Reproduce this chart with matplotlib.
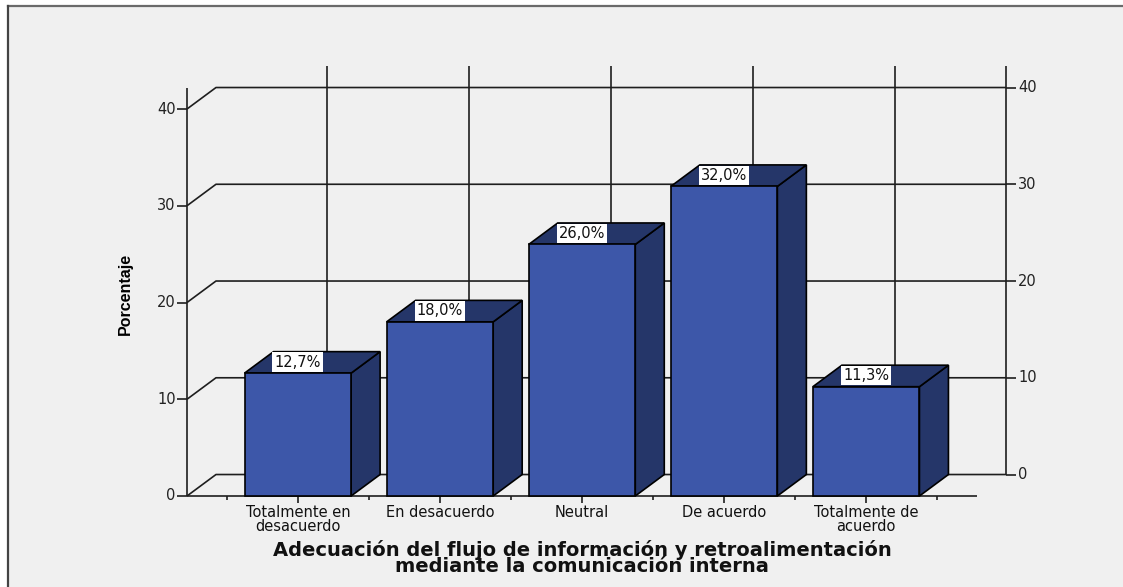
import matplotlib
matplotlib.use("Agg")
import matplotlib.pyplot as plt
from matplotlib.patches import Polygon, Rectangle
from matplotlib.lines import Line2D

# Porcentaje por categoría
categorias = ["Totalmente en\ndesacuerdo", "En desacuerdo", "Neutral",
              "De acuerdo", "Totalmente de\nacuerdo"]
porcentajes = [12.7, 18.0, 26.0, 32.0, 11.3]
etiquetas = ["12,7%", "18,0%", "26,0%", "32,0%", "11,3%"]
marcas_y = [0, 10, 20, 30, 40]

titulo = ["Adecuación del flujo de información y retroalimentación",
          "mediante la comunicación interna"]
eje_y = "Porcentaje"

FRENTE = "#3D57A9"
OSCURO = "#253669"
LINEA = "#1e1e1e"
FONDO = "#F0F0F0"

W, H = 1123, 587
fig = plt.figure(figsize=(W / 100, H / 100), dpi=100)
fig.patch.set_facecolor("white")

# fondo del marco
fig.patches.append(Rectangle((8 / W, 0), 1, 1 - 6 / H, transform=fig.transFigure,
                             facecolor=FONDO, edgecolor="none", zorder=-5))
fig.lines.append(Line2D([8 / W, 1], [1 - 6 / H, 1 - 6 / H], transform=fig.transFigure,
                        color="#6a6a6a", lw=1.6, zorder=-4))
fig.lines.append(Line2D([8 / W, 8 / W], [0, 1 - 6 / H], transform=fig.transFigure,
                        color="#444444", lw=1.6, zorder=-4))

# plano frontal del gráfico
ax = fig.add_axes([187 / W, 91 / H, 790 / W, 387 / H])
ax.set_zorder(1)
ax.set_xlim(-0.78, 4.78)
ax.set_ylim(0, 40)
ax.axis("off")

x0, x1 = -0.78, 4.78
dx, dy = 0.204, 2.22     # profundidad del efecto 3D
ytop = 42.2
ancho = 0.75

kw = dict(color=LINEA, lw=1.2, clip_on=False, solid_capstyle="butt")

# pared de fondo: líneas horizontales y diagonales laterales
for v in marcas_y:
    ax.plot([x0, x0 + dx, x1 + dx], [v, v + dy, v + dy], zorder=1, **kw)
    # marcas y etiquetas del eje izquierdo
    ax.plot([x0 - 0.07, x0], [v, v], zorder=1, **kw)
    ax.text(x0 - 0.08, v, str(v), ha="right", va="center", fontsize=10.5,
            color="#222222")
    # marcas y etiquetas del eje derecho
    ax.plot([x1 + dx, x1 + dx + 0.07], [v + dy, v + dy], zorder=1, **kw)
    ax.text(x1 + dx + 0.085, v + dy, str(v), ha="left", va="center",
            fontsize=10.5, color="#222222")

# ejes verticales
ax.plot([x0, x0], [0, ytop], zorder=1, **kw)
ax.plot([x1 + dx, x1 + dx], [dy, ytop + dy], zorder=1, **kw)

# líneas verticales en la pared de fondo
for i in range(len(categorias)):
    ax.plot([i + dx, i + dx], [dy, ytop + dy], zorder=1, **kw)

# línea base del piso
ax.plot([x0, x1], [0, 0], zorder=1, **kw)

# marcas del eje x
for i in range(len(categorias)):
    ax.plot([i, i], [0, -0.75], zorder=1, **kw)
for b in range(len(categorias) + 1):
    ax.plot([b - 0.5, b - 0.5], [0, -0.4], zorder=1, **kw)

# barras 3D
for i, v in enumerate(porcentajes):
    l, r = i - ancho / 2, i + ancho / 2
    lado = Polygon([(r, 0), (r + dx, dy), (r + dx, v + dy), (r, v)],
                   closed=True, facecolor=OSCURO, edgecolor="black", lw=1.2,
                   zorder=3, clip_on=False)
    tapa = Polygon([(l, v), (r, v), (r + dx, v + dy), (l + dx, v + dy)],
                   closed=True, facecolor=OSCURO, edgecolor="black", lw=1.2,
                   zorder=3, clip_on=False)
    cara = Rectangle((l, 0), ancho, v, facecolor=FRENTE, edgecolor="black",
                     lw=1.2, zorder=4, clip_on=False)
    ax.add_patch(lado)
    ax.add_patch(tapa)
    ax.add_patch(cara)
    ax.annotate(etiquetas[i], (i, v), xytext=(0, 2.5), textcoords="offset points",
                ha="center", va="bottom", fontsize=10.5, color="#111111", zorder=5,
                bbox=dict(boxstyle="square,pad=0.15", facecolor="white",
                          edgecolor="none"))

# etiquetas de categoría
for i, c in enumerate(categorias):
    ax.text(i, -0.95, c, ha="center", va="top", fontsize=10.5, color="#111111",
            linespacing=0.9)

# títulos de ejes
fig.text(125 / W, 1 - 294 / H, eje_y, rotation=90, ha="center", va="center",
         fontsize=11.5, fontweight="bold", family=["Liberation Sans", "DejaVu Sans"])
fig.text(582 / W, 1 - 558 / H, "\n".join(titulo), ha="center", va="center",
         fontsize=14, fontweight="bold", color="#111111", linespacing=0.85,
         multialignment="center")

fig.savefig("out.png", dpi=100, facecolor=fig.get_facecolor())
